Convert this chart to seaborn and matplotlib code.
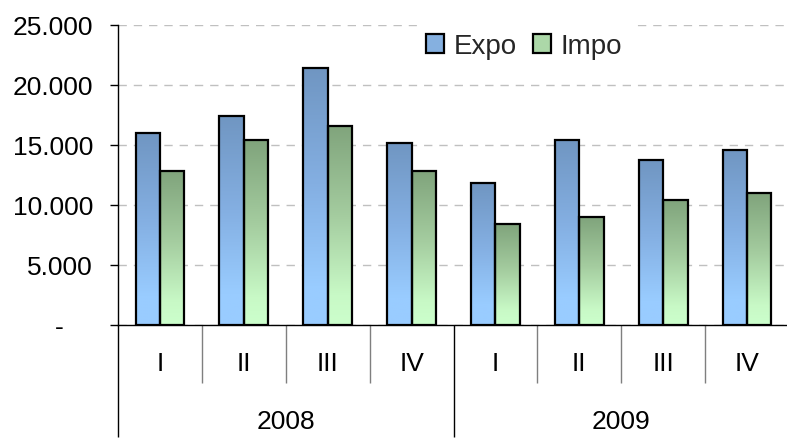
import numpy as np
import pandas as pd
import seaborn as sns
import matplotlib
matplotlib.use("Agg")
import matplotlib.pyplot as plt
from matplotlib.colors import LinearSegmentedColormap
from matplotlib.patches import Patch

# ---- data ----
years = ["2008", "2009"]
quarters = ["I", "II", "III", "IV"]
series = ["Expo", "Impo"]
expo = [16000, 17400, 21400, 15200, 11800, 15400, 13750, 14600]
impo = [12800, 15400, 16600, 12800, 8400, 9000, 10400, 11000]
yticks = [0, 5000, 10000, 15000, 20000, 25000]

sns.set_theme(style="white")
plt.rcParams["font.family"] = ["Liberation Sans", "DejaVu Sans"]

W, H = 787, 439
fig = plt.figure(figsize=(W / 100, H / 100), dpi=100)
ax = fig.add_axes([118 / W, 113 / H, 671 / W, 300 / H])

cats = [f"{y}-{q}" for y in years for q in quarters]
df = pd.DataFrame({
    "cat": cats * 2,
    "value": expo + impo,
    "serie": [series[0]] * len(expo) + [series[1]] * len(impo),
})

sns.barplot(data=df, x="cat", y="value", hue="serie", order=cats,
            hue_order=series, palette=["#85b0e0", "#a8d4a6"], width=0.58,
            edgecolor="black", linewidth=1.6, legend=False, ax=ax)

cmaps = {
    "Expo": LinearSegmentedColormap.from_list(
        "e", [(0, "#99ccff"), (0.15, "#99ccff"), (0.55, "#84afe2"), (1, "#7096c2")]),
    "Impo": LinearSegmentedColormap.from_list(
        "i", [(0, "#ccffcc"), (0.15, "#c8f9c6"), (0.55, "#a4cc9f"), (1, "#80a47c")]),
}
grad = np.linspace(0, 1, 256).reshape(-1, 1)
bars = [p for p in ax.patches]
n = len(cats)
for i, p in enumerate(bars):
    s = series[0] if i < n else series[1]
    x, y0 = p.get_x(), p.get_y()
    w, h = p.get_width(), p.get_height()
    im = ax.imshow(grad, extent=[x, x + w, y0, y0 + h], origin="lower",
                   aspect="auto", cmap=cmaps[s], zorder=p.get_zorder() - 0.05,
                   interpolation="bilinear")
    im.set_clip_path(p)
    p.set_facecolor("none")

ax.set_xlim(-0.5, n - 0.5)
ax.set_ylim(0, 25000)
ax.set_axisbelow(True)

FS = 19

# y axis
ax.set_yticks(yticks)
ax.set_yticklabels(["-    " if v == 0 else f"{v:,}".replace(",", ".") for v in yticks])
ax.tick_params(axis="y", left=True, length=6, width=1, direction="out",
               pad=12, labelsize=FS, color="black", labelcolor="black")
ax.yaxis.grid(True, linestyle=(0, (6, 5)), color="#c0c0c0", linewidth=1)
ax.xaxis.grid(False)
ax.set_ylabel("")
ax.set_xlabel("")

# x axis (multi-level)
ax.set_xticks(range(n))
ax.set_xticklabels([])
ax.tick_params(axis="x", bottom=False, length=0)
tr = ax.get_xaxis_transform()
for i, c in enumerate(cats):
    ax.text(i, -38 / 300, quarters[i % 4], transform=tr, ha="center", va="center",
            fontsize=FS, color="black")
for k, yr in enumerate(years):
    ax.text(k * 4 + 1.5, -96 / 300, yr, transform=tr, ha="center", va="center",
            fontsize=FS, color="black")
ax.vlines([0.5, 1.5, 2.5, 4.5, 5.5, 6.5], -58 / 300, 0, transform=tr,
          clip_on=False, color="#7f7f7f", lw=1)
ax.vlines([-0.5, 3.5, 7.5], -112 / 300, 0, transform=tr, clip_on=False,
          color="black", lw=1)

for s in ["top", "right"]:
    ax.spines[s].set_visible(False)
ax.spines["left"].set_color("black")
ax.spines["left"].set_linewidth(1)
ax.spines["bottom"].set_color("black")
ax.spines["bottom"].set_linewidth(1)

handles = [Patch(facecolor="#85b0e0", edgecolor="black", linewidth=1.6, label="Expo"),
           Patch(facecolor="#acd8a8", edgecolor="black", linewidth=1.6, label="Impo")]
leg = ax.legend(handles=handles, loc="center", bbox_to_anchor=(0.605, 0.93),
                ncol=2, fontsize=20, handlelength=0.65, handleheight=0.65,
                handletextpad=0.35, columnspacing=0.6, frameon=True,
                facecolor="white", edgecolor="white", framealpha=1,
                borderpad=0.3, fancybox=False)

fig.savefig("out.png", dpi=100)
